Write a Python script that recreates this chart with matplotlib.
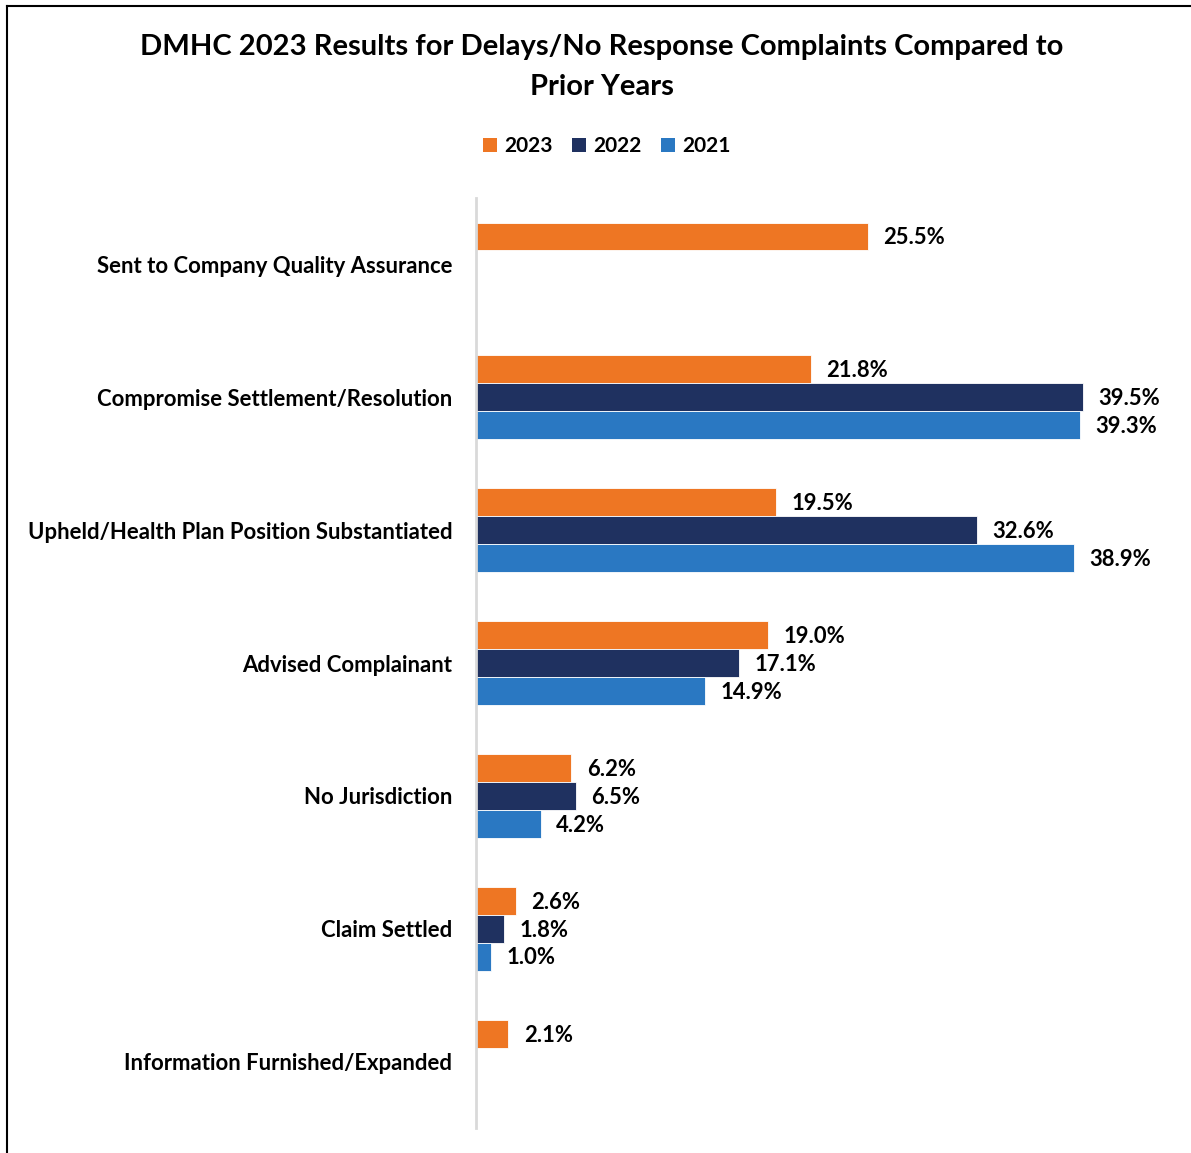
import matplotlib
matplotlib.use('Agg')
import matplotlib.pyplot as plt
import numpy as np
from matplotlib.lines import Line2D
from matplotlib.patches import Patch

# data
categories = [
    'Sent to Company Quality Assurance',
    'Compromise Settlement/Resolution',
    'Upheld/Health Plan Position Substantiated',
    'Advised Complainant',
    'No Jurisdiction',
    'Claim Settled',
    'Information Furnished/Expanded',
]
series_names = ['2023', '2022', '2021']
values_2023 = [25.5, 21.8, 19.5, 19.0, 6.2, 2.6, 2.1]
values_2022 = [None, 39.5, 32.6, 17.1, 6.5, 1.8, None]
values_2021 = [None, 39.3, 38.9, 14.9, 4.2, 1.0, None]

colors = ['#EE7623', '#1F3160', '#2A78C2']

plt.rcParams['font.family'] = ['Lato', 'DejaVu Sans']
plt.rcParams['font.weight'] = 'bold'

W, H = 1191, 1153
fig = plt.figure(figsize=(W / 100, H / 100), dpi=100)

ax = fig.add_axes([476 / W, 1 - 1128 / H, (1185 - 476) / W, (1128 - 198) / H])

y = np.arange(len(categories))
bar_h = 0.21
offsets = [-bar_h, 0, bar_h]

for vals, off, col in zip([values_2023, values_2022, values_2021], offsets, colors):
    for i, v in enumerate(vals):
        if v is None:
            continue
        ax.barh(y[i] + off, v, height=bar_h, color=col, edgecolor='white', linewidth=0.6)
        ax.text(v + 1.0, y[i] + off + 0.01, f'{v:.1f}%', va='center', ha='left',
                fontsize=15.8, fontweight='bold', color='black')

ax.set_ylim(len(categories) - 0.5, -0.5)
ax.set_xlim(0, (1185 - 476) / 15.37)
ax.set_yticks(y)
ax.set_yticklabels(categories, fontsize=15.9, fontweight='bold')
ax.tick_params(axis='y', length=0, pad=17)
ax.set_xticks([])
for s in ['top', 'right', 'bottom']:
    ax.spines[s].set_visible(False)
ax.spines['left'].set_color('#D9D9D9')
ax.spines['left'].set_linewidth(2)

fig.text(602 / W, 1 - 47 / H, 'DMHC 2023 Results for Delays/No Response Complaints Compared to',
         ha='center', va='center', fontsize=21, fontweight='bold')
fig.text(602 / W, 1 - 87 / H, 'Prior Years',
         ha='center', va='center', fontsize=21, fontweight='bold')

handles = [Patch(facecolor=c, edgecolor='none') for c in colors]
fig.legend(handles, series_names, loc='center', bbox_to_anchor=(607 / W, 1 - 146 / H),
           ncol=3, frameon=False, handlelength=0.65, handleheight=0.65,
           handletextpad=0.35, columnspacing=0.95, prop={'weight': 'bold', 'size': 15})

# border lines on the left and top of the picture
fig.add_artist(Line2D([7 / W, 7 / W], [0, 1 - 6 / H], color='black', linewidth=1.5,
                      transform=fig.transFigure))
fig.add_artist(Line2D([7 / W, 1], [1 - 6 / H, 1 - 6 / H], color='black', linewidth=1.5,
                      transform=fig.transFigure))

fig.savefig('out.png', dpi=100)
